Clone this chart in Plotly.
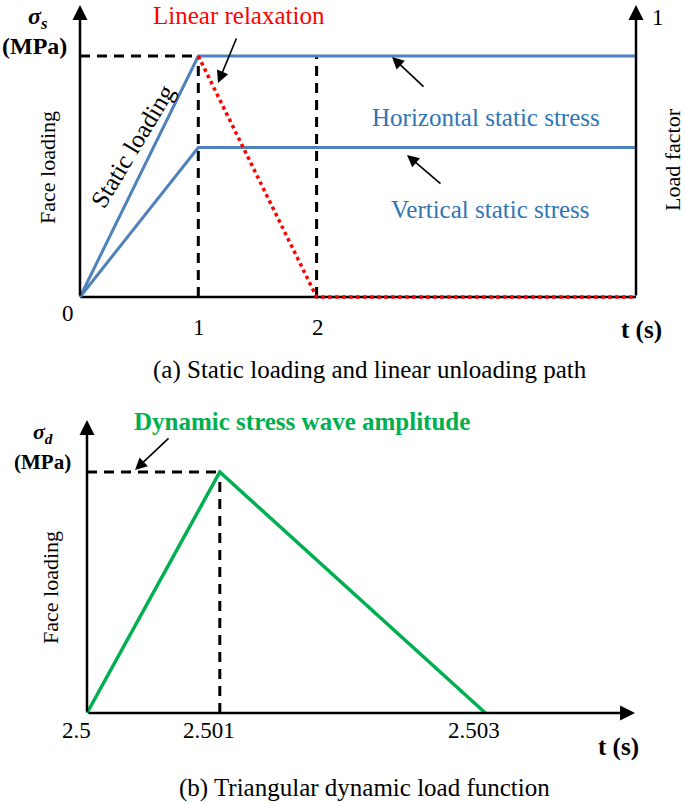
import plotly.graph_objects as go

W, H = 685, 803
FONT = "Times New Roman, Liberation Serif, serif"

# ---------------- data ----------------
# (a) static loading and linear unloading
t_static = [0, 1, 4.7]
horizontal_stress = [0, 1.0, 1.0]
vertical_stress = [0, 0.62, 0.62]
t_relax = [1, 2, 4.7]
load_factor = [1.0, 0.0, 0.0]
ticks_a = [0, 1, 2]
tick_labels_a = ["0", "1", "2"]

# (b) triangular dynamic load
t_dynamic = [2.5, 2.501, 2.503]
dynamic_stress = [0, 1.0, 0]
ticks_b = [2.5, 2.501, 2.503]
tick_labels_b = ["2.5", "2.501", "2.503"]

BLUE = "#4F81BD"
TEXT_BLUE = "#2E75B6"
RED = "#FF0000"
GREEN = "#00B050"
BLACK = "#000000"


def px(x):
    return x / W


def py(y):
    return 1 - y / H


fig = go.Figure()

# ---------- panel (a) traces ----------
fig.add_trace(go.Scatter(x=t_static, y=horizontal_stress, mode="lines",
                         line=dict(color=BLUE, width=3), xaxis="x", yaxis="y"))
fig.add_trace(go.Scatter(x=t_static, y=vertical_stress, mode="lines",
                         line=dict(color=BLUE, width=3), xaxis="x", yaxis="y"))
fig.add_trace(go.Scatter(x=t_relax, y=load_factor, mode="lines",
                         line=dict(color=RED, width=3.5, dash="dot"), xaxis="x", yaxis="y"))

# ---------- panel (b) traces ----------
fig.add_trace(go.Scatter(x=t_dynamic, y=dynamic_stress, mode="lines",
                         line=dict(color=GREEN, width=3.5), xaxis="x2", yaxis="y2"))

shapes = []
DASH = "10px,7px"
t_end_a = t_static[-1]
amp = horizontal_stress[1]
# axes lines / dashed guides (a)
shapes.append(dict(type="line", xref="x", yref="y", x0=0, x1=t_end_a, y0=0, y1=0,
                   line=dict(color=BLACK, width=2.5), layer="below"))
shapes.append(dict(type="line", xref="x", yref="y", x0=0, x1=t_static[1], y0=amp, y1=amp,
                   line=dict(color=BLACK, width=3, dash=DASH), layer="below"))
for tv in ticks_a[1:]:
    shapes.append(dict(type="line", xref="x", yref="y", x0=tv, x1=tv, y0=0, y1=amp,
                       line=dict(color=BLACK, width=3, dash=DASH), layer="below"))
# dashed guides (b)
t_peak = t_dynamic[1]
amp_b = dynamic_stress[1]
shapes.append(dict(type="line", xref="x2", yref="y2", x0=t_dynamic[0], x1=t_peak, y0=amp_b, y1=amp_b,
                   line=dict(color=BLACK, width=3, dash=DASH), layer="below"))
shapes.append(dict(type="line", xref="x2", yref="y2", x0=t_peak, x1=t_peak, y0=0, y1=amp_b,
                   line=dict(color=BLACK, width=3, dash=DASH), layer="below"))

ann = []

# axis arrows (a)
top_a = 1.2116
for xv in [0, t_end_a]:
    ann.append(dict(x=xv, y=top_a, xref="x", yref="y", ax=xv, ay=0, axref="x", ayref="y",
                    showarrow=True, arrowhead=2, arrowsize=1.2, arrowwidth=2.5,
                    arrowcolor=BLACK, text="", standoff=0, startstandoff=0))
# axis arrows (b)
top_b = 1.2158
t_tip_b = 2.504127
ann.append(dict(x=2.5, y=top_b, xref="x2", yref="y2", ax=2.5, ay=0, axref="x2", ayref="y2",
                showarrow=True, arrowhead=2, arrowsize=1.2, arrowwidth=2.5,
                arrowcolor=BLACK, text="", standoff=0, startstandoff=0))
ann.append(dict(x=t_tip_b, y=0, xref="x2", yref="y2", ax=2.5, ay=0, axref="x2", ayref="y2",
                showarrow=True, arrowhead=2, arrowsize=1.2, arrowwidth=2.5,
                arrowcolor=BLACK, text="", standoff=0, startstandoff=0))


def text(t, x, y, size=25, color=BLACK, angle=0, bold=False):
    if bold:
        t = "<b>" + t + "</b>"
    ann.append(dict(text=t, x=px(x), y=py(y), xref="paper", yref="paper",
                    xanchor="center", yanchor="middle", showarrow=False, textangle=angle,
                    font=dict(family=FONT, size=size, color=color)))


def arrow(tail, head):
    ann.append(dict(text="", x=px(head[0]), y=py(head[1]), xref="paper", yref="paper",
                    ax=tail[0] - head[0], ay=tail[1] - head[1], showarrow=True,
                    arrowhead=2, arrowsize=1.5, arrowwidth=1.6, arrowcolor=BLACK,
                    standoff=0))


# tick labels (a)
for tv, lab in zip(ticks_a, tick_labels_a):
    if tv == 0:
        ann.append(dict(text=lab, x=tv, xref="x", y=py(313), yref="paper", xshift=-12,
                        showarrow=False, font=dict(family=FONT, size=23, color=BLACK)))
    else:
        ann.append(dict(text=lab, x=tv, xref="x", y=py(327), yref="paper", xshift=1,
                        showarrow=False, font=dict(family=FONT, size=23, color=BLACK)))
# tick labels (b)
for tv, lab in zip(ticks_b, tick_labels_b):
    ann.append(dict(text=lab, x=tv, xref="x2", y=py(745), yref="paper", xshift=-11,
                    showarrow=False, font=dict(family=FONT, size=23, color=BLACK)))

# texts panel (a)
text("<i>σ<sub>s</sub></i>", 38, 18, size=24, bold=True)
text("(MPa)", 34, 46, size=24, bold=True)
text("Linear relaxation", 239, 16, size=25, color=RED)
text("Horizontal static stress", 486, 117, size=25, color=TEXT_BLUE)
text("Vertical static stress", 491, 210, size=25, color=TEXT_BLUE)
text("Static loading", 132, 146, size=25, angle=-59)
text("Face loading", 48, 168, size=22, angle=-90)
text("Load factor", 672, 160, size=22, angle=-90)
text("1", 658, 18, size=23)
text("t (s)", 641, 330, size=25, bold=True)
text("(a) Static loading and linear unloading path", 370, 370, size=25)
arrow((237, 37), (218, 83))
arrow((425, 88), (392, 57))
arrow((442, 185), (407, 155))

# texts panel (b)
text("<i>σ<sub>d</sub></i>", 43, 433, size=22, bold=True)
text("(MPa)", 42, 462, size=21, bold=True)
text("Dynamic stress wave amplitude", 302, 421, size=25, color=GREEN, bold=True)
text("Face loading", 50, 587, size=22, angle=-90)
text("t (s)", 618, 747, size=25, bold=True)
text("(b) Triangular dynamic load function", 364, 788, size=25)
arrow((170, 437), (135, 470))

fig.update_layout(
    width=W, height=H, autosize=False,
    margin=dict(l=0, r=0, t=0, b=0),
    paper_bgcolor="white", plot_bgcolor="white",
    showlegend=False,
    hovermode=False,
    xaxis=dict(domain=[0, 1], range=[-0.6762, 5.1141], visible=False, anchor="y"),
    yaxis=dict(domain=[1 - 400 / H, 1], range=[-0.4274, 1.2324], visible=False, anchor="x"),
    xaxis2=dict(domain=[0, 1], range=[2.4993449, 2.5045030], visible=False, anchor="y2"),
    yaxis2=dict(domain=[0, 1 - 400 / H], range=[-0.3734, 1.2988], visible=False, anchor="x2"),
    shapes=shapes,
    annotations=ann,
)

fig.write_html(
    "out.html",
    config={"displayModeBar": False},
    post_script="document.body.style.margin='0';document.body.style.overflow='hidden';",
)
